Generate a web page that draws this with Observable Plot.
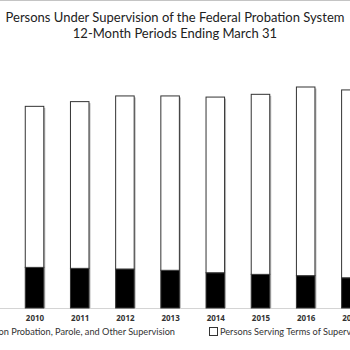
<!DOCTYPE html>
<html><head><meta charset="utf-8">
<script src="https://cdn.jsdelivr.net/npm/d3@7"></script>
<script src="https://cdn.jsdelivr.net/npm/@observablehq/plot@0.6"></script>
<style>
html,body{margin:0;padding:0;background:#fff;}
#wrap{position:relative;width:350px;height:350px;overflow:hidden;background:#fff;font-family:Lato,sans-serif;}
#topline{position:absolute;left:0;top:0;width:350px;height:1px;background:#c4c4c4;}
#title{position:absolute;left:-20px;top:9px;width:390px;text-align:center;font-size:13px;line-height:16px;color:#222;white-space:nowrap;}
#chart{position:absolute;left:0;top:48px;width:400px;}
.leg{position:absolute;top:326px;font-size:9.2px;line-height:12px;white-space:nowrap;color:#333;}
.sw{display:inline-block;width:7px;height:7px;border:1px solid #333;margin-right:2px;vertical-align:-1px;}
</style></head><body>
<div id="wrap">
<div id="topline"></div>
<div id="title">Persons Under Supervision of the Federal Probation System<br>12-Month Periods Ending March 31</div>
<div id="chart"></div>
<div class="leg" style="right:175px"><span class="sw" style="background:#000"></span>Persons on Probation, Parole, and Other Supervision</div>
<div class="leg" style="left:209px"><span class="sw" style="background:#fff"></span>Persons Serving Terms of Supervised Release</div>
</div>
<script>
const years = ["2010","2011","2012","2013","2014","2015","2016","2017"];
const probation = [25000, 24400, 24000, 23200, 21700, 20700, 19900, 18600];
const supervised = [99100, 102600, 106500, 107300, 108100, 110800, 116100, 115600];
const seriesNames = ["Persons on Probation, Parole, and Other Supervision", "Persons Serving Terms of Supervised Release"];

const rows = [
  ...years.map((y, i) => ({year: y, series: seriesNames[0], value: probation[i]})),
  ...years.map((y, i) => ({year: y, series: seriesNames[1], value: supervised[i]}))
];
const totals = years.map((y, i) => ({year: y, value: probation[i] + supervised[i]}));

const chart = Plot.plot({
  width: 400,
  height: 276,
  marginLeft: 0,
  marginRight: 0,
  marginTop: 0,
  marginBottom: 16,
  style: {maxWidth: "none", overflow: "visible", background: "transparent"},
  x: {type: "band", domain: years, range: [-1.4, 386.8], padding: 0.59, round: false, label: null},
  y: {domain: [0, 140000], range: [260, 32.5], axis: null},
  color: {domain: seriesNames, range: ["#000000", "#ffffff"]},
  marks: [
    Plot.ruleY([0], {stroke: "#d4d4d4", strokeWidth: 1}),
    Plot.barY(totals, {x: "year", y: "value", fill: "#b8b8b8", dx: 1.5, insetTop: 1.5}),
    Plot.barY(rows, {x: "year", y: "value", fill: "series", stroke: "#333", strokeWidth: 1}),
    Plot.axisX({tickSize: 0, tickPadding: 7, fontSize: 8, fontWeight: "bold", fill: "#333", label: null})
  ]
});
document.getElementById("chart").appendChild(chart);
</script>
</body></html>
